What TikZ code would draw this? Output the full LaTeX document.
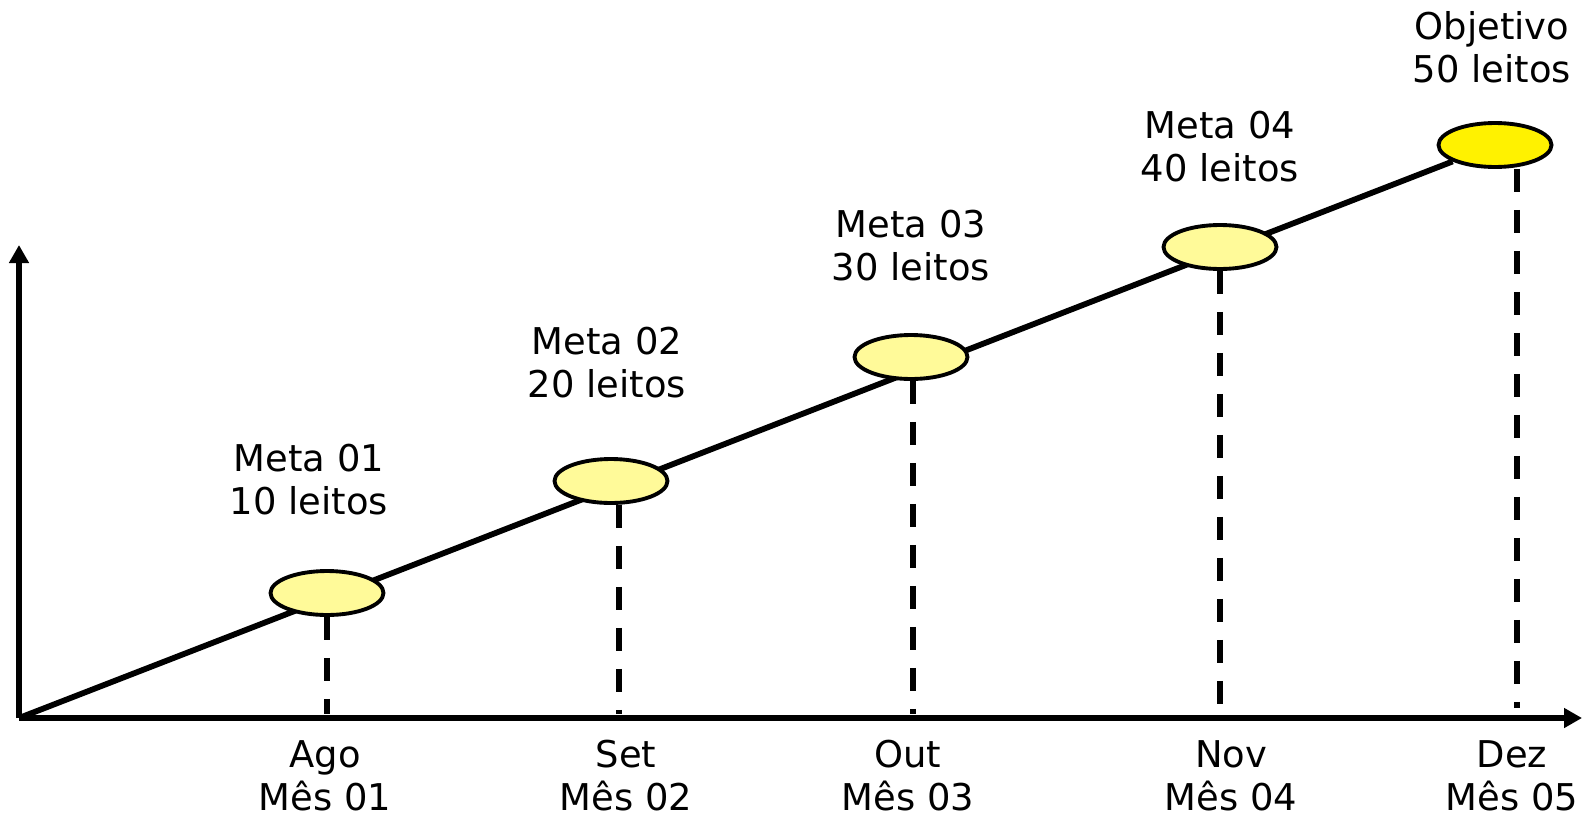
\documentclass[tikz,border=0pt]{standalone}
\usepackage{fontspec}
\setmainfont{DejaVu Sans}
\usetikzlibrary{arrows.meta}
\usetikzlibrary{shapes.geometric}
\usetikzlibrary{backgrounds}

\tikzset{
  meta/.style={ellipse, draw, line width=2.2pt, fill=yellow!40, minimum width=2.26cm, minimum height=0.88cm, inner sep=0pt},
  rotulo/.style={align=center, font=\fontsize{21}{24.5}\selectfont},
  guia/.style={line width=3.3pt, dash pattern=on 0.46cm off 0.36cm},
  eixo/.style={line width=3.3pt, -{Triangle[length=0.36cm,width=0.38cm]}},
}

\begin{document}
\begin{tikzpicture}[x=0.02cm, y=-0.02cm]
\useasboundingbox (0,0) rectangle (1591,818);

% Define coordinates
\coordinate (O) at (19,718); % origin of the axes
\coordinate (topo) at (19,245);
\coordinate (fim) at (1582,718);

% Axes
\draw[eixo] (O) -- (topo);
\draw[eixo] (O) -- (fim);

% Goals along the line
\node[meta] (e1) at (327,593) {};
\node[meta] (e2) at (611,481) {};
\node[meta] (e3) at (911,357) {};
\node[meta] (e4) at (1220,247) {};
\node[meta, fill=yellow] (e5) at (1495,145) {};

% Growth line, behind the ellipses
\begin{pgfonlayer}{background}
  \draw[line width=3.3pt] (O) -- (e5);
\end{pgfonlayer}

% Dashed guides down to the months
\coordinate (m1) at (327,714);
\coordinate (m2) at (619,714);
\coordinate (m3) at (913,714);
\coordinate (m4) at (1220,714);
\coordinate (m5) at (1517,708);
\draw[guia] (m1 |- e1.south) -- (m1);
\draw[guia] (m2 |- e2.south) -- (m2);
\draw[guia] (m3 |- e3.south) -- (m3);
\draw[guia] (m4 |- e4.south) -- (m4);
\draw[guia] (m5 |- e5.south) -- (m5);

% Goal labels
\node[rotulo] (r1) at (309,480) {Meta 01\\10 leitos};
\node[rotulo] (r2) at (607,363) {Meta 02\\20 leitos};
\node[rotulo] (r3) at (911,246) {Meta 03\\30 leitos};
\node[rotulo] (r4) at (1220,147) {Meta 04\\40 leitos};
\node[rotulo] (r5) at (1492,47) {Objetivo\\50 leitos};

% Month labels
\node[rotulo] (d1) at (325,776) {Ago\\Mês 01};
\node[rotulo] (d2) at (626,776) {Set\\Mês 02};
\node[rotulo] (d3) at (908,776) {Out\\Mês 03};
\node[rotulo] (d4) at (1231,776) {Nov\\Mês 04};
\node[rotulo] (d5) at (1512,776) {Dez\\Mês 05};

\end{tikzpicture}
\end{document}
